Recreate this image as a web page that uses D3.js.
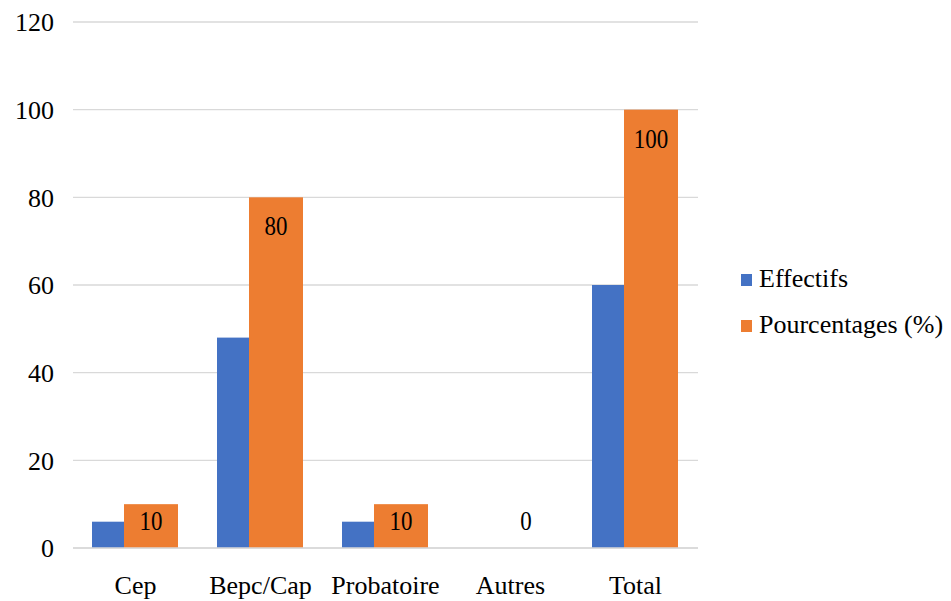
<!DOCTYPE html>
<html>
<head>
<meta charset="utf-8">
<script src="https://cdn.jsdelivr.net/npm/d3@7"></script>
<style>
  html, body { margin: 0; padding: 0; background: #fff; }
  svg { display: block; }
  svg text { font-family: "Liberation Serif", "Tinos", "Times New Roman", "DejaVu Serif", serif; fill: #000; }
</style>
</head>
<body>
<svg id="chart" width="951" height="601"></svg>
<script>
// Niveau d'étude : effectifs et pourcentages
const categories = ["Cep", "Bepc/Cap", "Probatoire", "Autres", "Total"];
const effectifs = [6, 48, 6, 0, 60];
const pourcentages = [10, 80, 10, 0, 100];
const yTicks = [0, 20, 40, 60, 80, 100, 120];
const seriesNames = ["Effectifs", "Pourcentages (%)"];
const colors = ["#4472C4", "#ED7D31"];
const serif = '"Liberation Serif", "Tinos", "Times New Roman", "DejaVu Serif", serif';

const svg = d3.select("#chart");
const plotLeft = 73, plotRight = 698, plotTop = 22, plotBottom = 548;

const x = d3.scaleBand().domain(categories).range([plotLeft, plotRight]).padding(0);
const y = d3.scaleLinear().domain([0, 120]).range([plotBottom, plotTop]);
const bw = x.bandwidth();
const barW = bw * 0.432;
const offBlue = bw * 0.152, offOrange = bw * 0.408;

// Gridlines
svg.append("g").selectAll("line").data(yTicks).join("line")
  .attr("x1", plotLeft).attr("x2", plotRight)
  .attr("y1", d => y(d)).attr("y2", d => y(d))
  .attr("stroke", "#d9d9d9").attr("stroke-width", 1.3);

// Y axis labels
const yAxis = d3.axisLeft(y).tickValues(yTicks).tickSize(0).tickPadding(0);
const gy = svg.append("g").attr("transform", "translate(54,0)").call(yAxis)
  .attr("font-family", serif).attr("font-size", 26);
gy.select(".domain").remove();
gy.selectAll("text").attr("dy", "0.34em").attr("fill", "#000");

// Bars: Effectifs first, Pourcentages overlapping on top
svg.append("g").selectAll("rect").data(categories).join("rect")
  .attr("x", c => x(c) + offBlue)
  .attr("width", barW)
  .attr("y", (c, i) => y(effectifs[i]))
  .attr("height", (c, i) => y(0) - y(effectifs[i]))
  .attr("fill", colors[0]);

svg.append("g").selectAll("rect").data(categories).join("rect")
  .attr("x", c => x(c) + offOrange)
  .attr("width", barW)
  .attr("y", (c, i) => y(pourcentages[i]))
  .attr("height", (c, i) => y(0) - y(pourcentages[i]))
  .attr("fill", colors[1]);

// Baseline
svg.append("line")
  .attr("x1", plotLeft).attr("x2", plotRight)
  .attr("y1", y(0)).attr("y2", y(0))
  .attr("stroke", "#d9d9d9").attr("stroke-width", 1.5);

// Data labels on the percentage bars
svg.append("g").attr("font-family", serif).selectAll("text").data(categories).join("text")
  .attr("x", c => x(c) + offOrange + barW / 2)
  .attr("y", (c, i) => Math.min(y(pourcentages[i]) + 38, y(0) - 18))
  .attr("text-anchor", "middle")
  .attr("font-size", 27)
  .attr("transform", function(c) {
    const cx = x(c) + offOrange + barW / 2;
    return `translate(${cx},0) scale(0.85,1) translate(${-cx},0)`;
  })
  .text((c, i) => pourcentages[i]);

// Category labels
const xAxis = d3.axisBottom(x).tickSize(0).tickPadding(0);
const gx = svg.append("g").attr("transform", `translate(0,${y(0)})`).call(xAxis)
  .attr("font-family", serif).attr("font-size", 26);
gx.select(".domain").remove();
gx.selectAll("text").attr("dy", null).attr("y", 46).attr("fill", "#000");

// Legend
const legend = svg.append("g").attr("font-family", serif).selectAll("g").data(seriesNames).join("g")
  .attr("transform", (d, i) => `translate(741,${287 + i * 46})`);
legend.append("rect")
  .attr("x", 0).attr("y", -13).attr("width", 11).attr("height", 12)
  .attr("fill", (d, i) => colors[i]);
legend.append("text")
  .attr("x", 18).attr("y", 0)
  .attr("font-size", 26)
  .text(d => d);
</script>
</body>
</html>
